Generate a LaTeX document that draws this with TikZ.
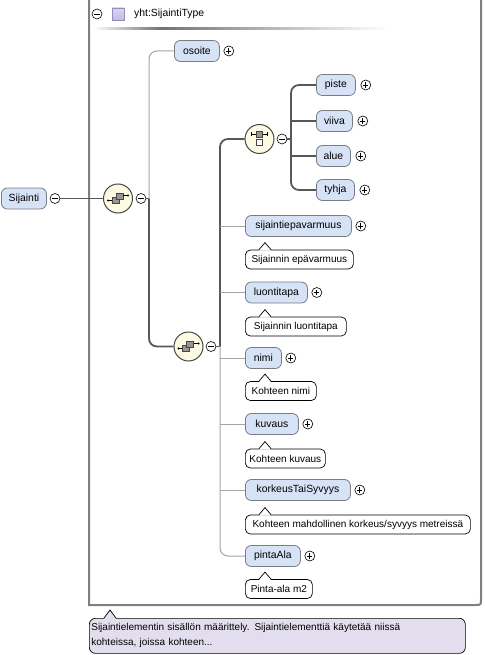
\documentclass[tikz,border=0pt]{standalone}
\usepackage{fontspec}
\setmainfont{Liberation Sans}
\usetikzlibrary{calc}
\definecolor{elemfill}{RGB}{214,227,246}
\definecolor{elemborder}{RGB}{120,124,132}
\definecolor{seqfill}{RGB}{252,250,226}
\definecolor{iconborder}{RGB}{70,70,70}
\definecolor{commentfill}{RGB}{226,222,238}
\definecolor{darkline}{RGB}{88,88,88}
\definecolor{lightline}{RGB}{165,165,165}
\definecolor{boxborder}{RGB}{128,128,128}
\definecolor{hdrsq}{RGB}{196,186,226}
\definecolor{hdrsqb}{RGB}{150,138,190}
\definecolor{icongray}{RGB}{150,150,150}
\begin{document}
\begin{tikzpicture}[x=1pt,y=-1pt,
  font=\fontsize{10.4}{12}\selectfont,
  elem/.style={draw=elemborder, fill=elemfill, rounded corners=6pt, minimum height=21pt, inner sep=0pt, anchor=west, line width=0.8pt},
  pmbase/.style={circle, draw=black, fill=white, minimum size=10pt, inner sep=0pt, line width=0.6pt},
  pmminus/.style={pmbase, path picture={\draw[line width=0.7pt] ([xshift=-2.6pt]path picture bounding box.center) -- ([xshift=2.6pt]path picture bounding box.center);}},
  pmplus/.style={pmbase, path picture={\draw[line width=0.7pt] ([xshift=-2.6pt]path picture bounding box.center) -- ([xshift=2.6pt]path picture bounding box.center) ([yshift=-2.6pt]path picture bounding box.center) -- ([yshift=2.6pt]path picture bounding box.center);}},
  seqc/.style={circle, draw=iconborder, fill=seqfill, minimum size=29pt, inner sep=0pt, line width=1pt},
  notebox/.style={draw=black, fill=white, rounded corners=5pt, minimum height=19pt, inner sep=0pt, anchor=west, line width=0.7pt, font=\fontsize{10}{12}\selectfont},
  mand/.style={draw=darkline, line width=1.8pt, rounded corners=8pt},
  opt/.style={draw=lightline, line width=1pt, rounded corners=8pt},
  sqicon/.style={draw=iconborder, fill=icongray, line width=0.6pt}
]
\useasboundingbox (0,0) rectangle (484,655);
\fill[white] (0,0) rectangle (484,655);

% outer type box
\draw[draw=boxborder, line width=2pt] (89,-3) -- (89,605) -- (475,605) .. controls (481,605) .. (481,599) -- (481,-3);
% header
\node[pmminus] (hm) at (97,14) {};
\draw[draw=hdrsqb, line width=0.6pt, top color=white!40!hdrsq, bottom color=hdrsq] (112,8) rectangle (124,20);
\node[anchor=west, inner sep=0pt] (hdr) at (134,14) {yht:SijaintiType};
\shade[left color=white, right color=black!55] (93,28) rectangle (160,30);
\shade[left color=black!55, right color=white] (160,28) rectangle (388,30);

% root element
\node[elem, minimum width=45pt] (sij) at (1,198.5) {Sijainti};
\node[pmminus] (m0) at (55,198.5) {};

% sequence 1
\node[seqc] (s1) at (118,198.5) {};
\node[pmminus] (m1) at (141,198.5) {};
\coordinate (j1) at (149,198.5);

\node[elem, minimum width=45pt] (osoite) at (174,51) {osoite};
\node[pmplus] at ($(osoite.east)+(9,0)$) {};

% sequence 2
\node[seqc] (s2) at (188.5,346.5) {};
\node[pmminus] (m2) at (211,346.5) {};
\coordinate (j2) at (220,346.5);

% choice
\node[seqc] (ch) at (259.5,139) {};
\node[pmminus] (m3) at (282,139) {};
\coordinate (j3) at (291,139);

\node[elem, minimum width=39pt] (piste) at (316,85) {piste};
\node[elem, minimum width=36pt] (viiva) at (316,121) {viiva};
\node[elem, minimum width=34pt] (alue) at (316,156) {alue};
\node[elem, minimum width=38pt] (tyhja) at (316,190) {tyhja};
\foreach \n in {piste,viiva,alue,tyhja}{\node[pmplus] at ($(\n.east)+(10,0)$) {};}

% sequence 2 children
\node[elem, minimum width=106pt] (e1) at (245,226) {sijaintiepavarmuus};
\node[elem, minimum width=62pt] (e2) at (245,292.5) {luontitapa};
\node[elem, minimum width=36pt] (e3) at (245,358) {nimi};
\node[elem, minimum width=53pt] (e4) at (245,424) {kuvaus};
\node[elem, minimum width=105pt] (e5) at (245,490) {korkeusTaiSyvyys};
\node[elem, minimum width=55pt] (e6) at (245,556) {pintaAla};
\foreach \n in {e1,e2,e3,e4,e5,e6}{\node[pmplus] at ($(\n.east)+(9,0)$) {};}

% notes
\node[notebox, minimum width=108pt] (n1) at (245,259.5) {Sijainnin epävarmuus};
\node[notebox, minimum width=101pt] (n2) at (245,326.5) {Sijainnin luontitapa};
\node[notebox, minimum width=71pt] (n3) at (245,391) {Kohteen nimi};
\node[notebox, minimum width=80pt] (n4) at (245,458.5) {Kohteen kuvaus};
\node[notebox, minimum width=225pt] (n5) at (245,524.5) {Kohteen mahdollinen korkeus/syvyys metreissä};
\node[notebox, minimum width=67pt] (n6) at (245,589) {Pinta-ala m2};
\foreach \n in {n1,n2,n3,n4,n5,n6}{
  \fill[white] ($(\n.north west)+(14,1)$) -- ($(\n.north west)+(20,-7)$) -- ($(\n.north west)+(26,1)$) -- cycle;
  \draw[line width=0.7pt] ($(\n.north west)+(14,0)$) -- ($(\n.north west)+(20,-7)$) -- ($(\n.north west)+(26,0)$);
}

% icons inside compositors
\foreach \s in {s1,s2}{
\begin{scope}[shift={(\s.center)}]
  \draw[line width=0.8pt] (-10,2) -- (-6,2);
  \fill (-10,2) circle (1.1pt);
  \draw[sqicon] (-6,-1.5) rectangle (1,5);
  \draw[sqicon] (-2,-5.5) rectangle (5,1);
  \draw[line width=0.8pt] (5,-3) -- (10,-3);
  \fill (10,-3) circle (1.1pt);
\end{scope}}
\begin{scope}[shift={(ch.center)}]
  \draw[line width=0.8pt] (-8,-4.5) -- (8,-4.5);
  \draw[line width=0.8pt] (-8,-6.5) -- (-8,-2.5) (8,-6.5) -- (8,-2.5);
  \draw[sqicon] (-3,-7.5) rectangle (3,-1.5);
  \draw[draw=iconborder, fill=white, line width=0.6pt] (-3,0.5) rectangle (3,6.5);
\end{scope}

% connectors
\draw[mand] (m0) -- (s1);
\draw[mand] (m1.east) -- (j1);
\draw[opt] (j1) |- (osoite.west);
\draw[mand] (j1) |- (s2.west);
\draw[mand] (m2.east) -- (j2);
\draw[mand] (j2) |- (ch.west);
\draw[opt] (j2) |- (e6.west);
\foreach \n in {e1,e2,e3,e4,e5}{\draw[opt] (j2 |- \n.west) -- (\n.west);}
\draw[mand] (m3.east) -- (j3);
\draw[mand] (j3) |- (piste.west);
\draw[mand] (j3) |- (tyhja.west);
\draw[mand] (j3 |- viiva.west) -- (viiva.west);
\draw[mand] (j3 |- alue.west) -- (alue.west);

% comment
\node[draw=black, fill=commentfill, rounded corners=6pt, anchor=north west, minimum width=376pt, minimum height=35pt, text width=372pt, inner xsep=2pt, inner ysep=0pt, align=left, line width=0.7pt, font=\fontsize{10}{15}\selectfont] (cmt) at (89,618) {Sijaintielementin sisällön määrittely. Sijaintielementtiä käytetää niissä\\kohteissa, joissa kohteen...};
\fill[commentfill] ($(cmt.north west)+(15,1)$) -- ($(cmt.north west)+(21,-8)$) -- ($(cmt.north west)+(27,1)$) -- cycle;
\draw[line width=0.7pt] ($(cmt.north west)+(15,0)$) -- ($(cmt.north west)+(21,-8)$) -- ($(cmt.north west)+(27,0)$);
\end{tikzpicture}
\end{document}
